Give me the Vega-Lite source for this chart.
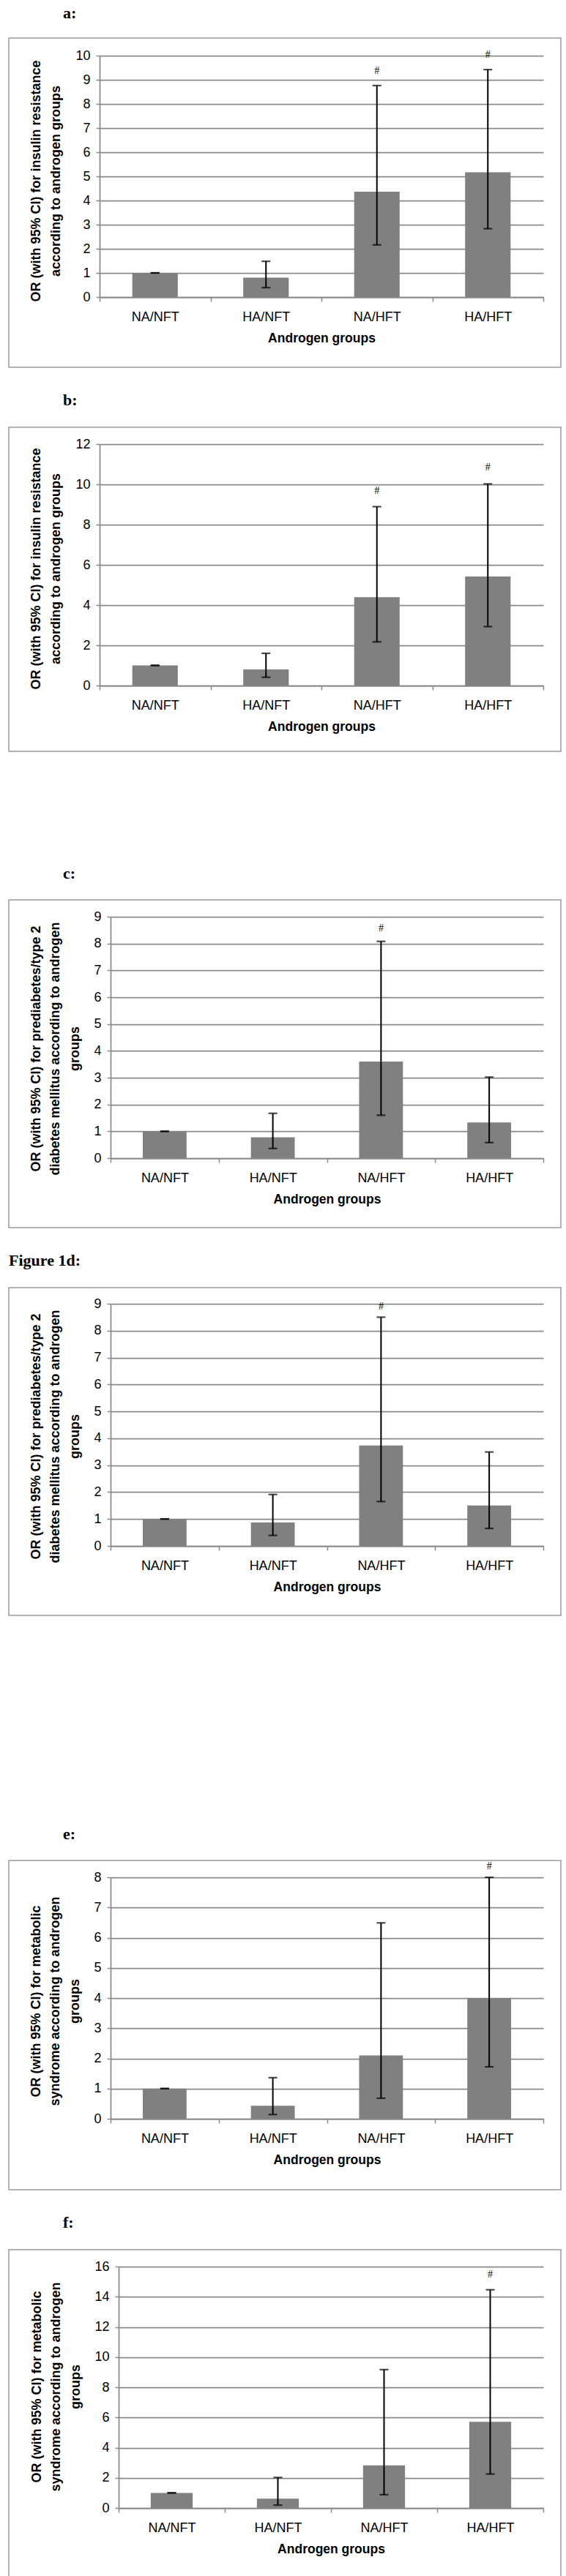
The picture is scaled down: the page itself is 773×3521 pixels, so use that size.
{
  "$schema": "https://vega.github.io/schema/vega-lite/v6.json",
  "padding": {"left": 11, "top": 6, "right": 8, "bottom": 0},
  "background": "white",
  "datasets": {
    "a": [
      {"group": "NA/NFT", "or": 1.0, "lo": 1.0, "hi": 1.0, "sig": ""},
      {"group": "HA/NFT", "or": 0.8, "lo": 0.39, "hi": 1.48, "sig": ""},
      {"group": "NA/HFT", "or": 4.36, "lo": 2.16, "hi": 8.76, "sig": "#"},
      {"group": "HA/HFT", "or": 5.17, "lo": 2.83, "hi": 9.42, "sig": "#"}
    ],
    "b": [
      {"group": "NA/NFT", "or": 1.0, "lo": 1.0, "hi": 1.0, "sig": ""},
      {"group": "HA/NFT", "or": 0.8, "lo": 0.41, "hi": 1.6, "sig": ""},
      {"group": "NA/HFT", "or": 4.39, "lo": 2.17, "hi": 8.89, "sig": "#"},
      {"group": "HA/HFT", "or": 5.42, "lo": 2.93, "hi": 10.02, "sig": "#"}
    ],
    "c": [
      {"group": "NA/NFT", "or": 1.0, "lo": 1.0, "hi": 1.0, "sig": ""},
      {"group": "HA/NFT", "or": 0.78, "lo": 0.36, "hi": 1.67, "sig": ""},
      {"group": "NA/HFT", "or": 3.6, "lo": 1.6, "hi": 8.08, "sig": "#"},
      {"group": "HA/HFT", "or": 1.33, "lo": 0.58, "hi": 3.02, "sig": ""}
    ],
    "d": [
      {"group": "NA/NFT", "or": 1.0, "lo": 1.0, "hi": 1.0, "sig": ""},
      {"group": "HA/NFT", "or": 0.87, "lo": 0.39, "hi": 1.91, "sig": ""},
      {"group": "NA/HFT", "or": 3.73, "lo": 1.65, "hi": 8.5, "sig": "#"},
      {"group": "HA/HFT", "or": 1.5, "lo": 0.65, "hi": 3.49, "sig": ""}
    ],
    "e": [
      {"group": "NA/NFT", "or": 1.0, "lo": 1.0, "hi": 1.0, "sig": ""},
      {"group": "HA/NFT", "or": 0.43, "lo": 0.14, "hi": 1.36, "sig": ""},
      {"group": "NA/HFT", "or": 2.1, "lo": 0.68, "hi": 6.49, "sig": ""},
      {"group": "HA/HFT", "or": 4.0, "lo": 1.72, "hi": 8.0, "sig": "#"}
    ],
    "f": [
      {"group": "NA/NFT", "or": 1.0, "lo": 1.0, "hi": 1.0, "sig": ""},
      {"group": "HA/NFT", "or": 0.62, "lo": 0.19, "hi": 2.02, "sig": ""},
      {"group": "NA/HFT", "or": 2.83, "lo": 0.88, "hi": 9.17, "sig": ""},
      {"group": "HA/HFT", "or": 5.71, "lo": 2.25, "hi": 14.46, "sig": "#"}
    ]
  },
  "vconcat": [
    {
      "title": {"text": "a:", "offset": 22},
      "width": 754, "height": 450,
      "data": {"name": "a"},
      "encoding": {"x": {"field": "group", "type": "nominal", "sort": ["NA/NFT", "HA/NFT", "NA/HFT", "HA/HFT"], "scale": {"range": [124, 730], "paddingInner": 0, "paddingOuter": 0}, "axis": {"title": "Androgen groups", "offset": -96}}},
      "layer": [
        {"mark": {"type": "bar", "color": "#808080", "width": {"band": 0.41}}, "encoding": {"y": {"field": "or", "type": "quantitative", "scale": {"domain": [0, 10], "range": [354, 24], "nice": false, "zero": true}, "axis": {"title": ["OR (with 95% CI) for insulin resistance", "according to androgen groups"], "values": [0, 1, 2, 3, 4, 5, 6, 7, 8, 9, 10], "format": "d", "offset": -124, "grid": true, "titleLineHeight": 27, "titleY": 195, "titleX": -86.5}}}},
        {"mark": {"type": "rule", "color": "black", "strokeWidth": 2}, "encoding": {"y": {"field": "lo", "type": "quantitative"}, "y2": {"field": "hi"}}},
        {"mark": {"type": "tick", "color": "black", "size": 12, "thickness": 2.2}, "encoding": {"y": {"field": "lo", "type": "quantitative"}}},
        {"mark": {"type": "tick", "color": "black", "size": 12, "thickness": 2.2}, "encoding": {"y": {"field": "hi", "type": "quantitative"}}},
        {"mark": {"type": "text", "dy": -20, "font": "Liberation Serif", "fontSize": 14, "color": "black"}, "encoding": {"y": {"field": "hi", "type": "quantitative"}, "text": {"field": "sig"}}}
      ]
    },
    {
      "title": {"text": "b:", "offset": 25},
      "width": 754, "height": 443,
      "data": {"name": "b"},
      "encoding": {"x": {"field": "group", "type": "nominal", "sort": ["NA/NFT", "HA/NFT", "NA/HFT", "HA/HFT"], "scale": {"range": [124, 730], "paddingInner": 0, "paddingOuter": 0}, "axis": {"title": "Androgen groups", "offset": -90}}},
      "layer": [
        {"mark": {"type": "bar", "color": "#808080", "width": {"band": 0.41}}, "encoding": {"y": {"field": "or", "type": "quantitative", "scale": {"domain": [0, 12], "range": [353, 23], "nice": false, "zero": true}, "axis": {"title": ["OR (with 95% CI) for insulin resistance", "according to androgen groups"], "values": [0, 2, 4, 6, 8, 10, 12], "format": "d", "offset": -124, "grid": true, "titleLineHeight": 27, "titleY": 193, "titleX": -86.5}}}},
        {"mark": {"type": "rule", "color": "black", "strokeWidth": 2}, "encoding": {"y": {"field": "lo", "type": "quantitative"}, "y2": {"field": "hi"}}},
        {"mark": {"type": "tick", "color": "black", "size": 12, "thickness": 2.2}, "encoding": {"y": {"field": "lo", "type": "quantitative"}}},
        {"mark": {"type": "tick", "color": "black", "size": 12, "thickness": 2.2}, "encoding": {"y": {"field": "hi", "type": "quantitative"}}},
        {"mark": {"type": "text", "dy": -22, "font": "Liberation Serif", "fontSize": 14, "color": "black"}, "encoding": {"y": {"field": "hi", "type": "quantitative"}, "text": {"field": "sig"}}}
      ]
    },
    {
      "title": {"text": [" ", "c:"], "offset": 24, "lineHeight": 122},
      "width": 754, "height": 448,
      "data": {"name": "c"},
      "encoding": {"x": {"field": "group", "type": "nominal", "sort": ["NA/NFT", "HA/NFT", "NA/HFT", "HA/HFT"], "scale": {"range": [139, 730], "paddingInner": 0, "paddingOuter": 0}, "axis": {"title": "Androgen groups", "offset": -95}}},
      "layer": [
        {"mark": {"type": "bar", "color": "#808080", "width": {"band": 0.405}}, "encoding": {"y": {"field": "or", "type": "quantitative", "scale": {"domain": [0, 9], "range": [353, 23], "nice": false, "zero": true}, "axis": {"title": ["OR (with 95% CI) for prediabetes/type 2", "diabetes mellitus according to androgen", "groups"], "values": [0, 1, 2, 3, 4, 5, 6, 7, 8, 9], "format": "d", "offset": -139, "grid": true, "titleLineHeight": 26.5, "titleY": 203, "titleX": -102}}}},
        {"mark": {"type": "rule", "color": "black", "strokeWidth": 2}, "encoding": {"y": {"field": "lo", "type": "quantitative"}, "y2": {"field": "hi"}}},
        {"mark": {"type": "tick", "color": "black", "size": 12, "thickness": 2.2}, "encoding": {"y": {"field": "lo", "type": "quantitative"}}},
        {"mark": {"type": "tick", "color": "black", "size": 12, "thickness": 2.2}, "encoding": {"y": {"field": "hi", "type": "quantitative"}}},
        {"mark": {"type": "text", "dy": -18, "font": "Liberation Serif", "fontSize": 14, "color": "black"}, "encoding": {"y": {"field": "hi", "type": "quantitative"}, "text": {"field": "sig"}}}
      ]
    },
    {
      "title": {"text": "Figure 1d:", "offset": 25, "dx": 0},
      "width": 754, "height": 448,
      "data": {"name": "d"},
      "encoding": {"x": {"field": "group", "type": "nominal", "sort": ["NA/NFT", "HA/NFT", "NA/HFT", "HA/HFT"], "scale": {"range": [139, 730], "paddingInner": 0, "paddingOuter": 0}, "axis": {"title": "Androgen groups", "offset": -95}}},
      "layer": [
        {"mark": {"type": "bar", "color": "#808080", "width": {"band": 0.405}}, "encoding": {"y": {"field": "or", "type": "quantitative", "scale": {"domain": [0, 9], "range": [353, 22], "nice": false, "zero": true}, "axis": {"title": ["OR (with 95% CI) for prediabetes/type 2", "diabetes mellitus according to androgen", "groups"], "values": [0, 1, 2, 3, 4, 5, 6, 7, 8, 9], "format": "d", "offset": -139, "grid": true, "titleLineHeight": 26.5, "titleY": 203, "titleX": -102}}}},
        {"mark": {"type": "rule", "color": "black", "strokeWidth": 2}, "encoding": {"y": {"field": "lo", "type": "quantitative"}, "y2": {"field": "hi"}}},
        {"mark": {"type": "tick", "color": "black", "size": 12, "thickness": 2.2}, "encoding": {"y": {"field": "lo", "type": "quantitative"}}},
        {"mark": {"type": "tick", "color": "black", "size": 12, "thickness": 2.2}, "encoding": {"y": {"field": "hi", "type": "quantitative"}}},
        {"mark": {"type": "text", "dy": -14, "font": "Liberation Serif", "fontSize": 14, "color": "black"}, "encoding": {"y": {"field": "hi", "type": "quantitative"}, "text": {"field": "sig"}}}
      ]
    },
    {
      "title": {"text": [" ", "e:"], "offset": 24, "lineHeight": 254},
      "width": 754, "height": 450,
      "data": {"name": "e"},
      "encoding": {"x": {"field": "group", "type": "nominal", "sort": ["NA/NFT", "HA/NFT", "NA/HFT", "HA/HFT"], "scale": {"range": [139, 730], "paddingInner": 0, "paddingOuter": 0}, "axis": {"title": "Androgen groups", "offset": -97}}},
      "layer": [
        {"mark": {"type": "bar", "color": "#808080", "width": {"band": 0.405}}, "encoding": {"y": {"field": "or", "type": "quantitative", "scale": {"domain": [0, 8], "range": [353, 23], "nice": false, "zero": true}, "axis": {"title": ["OR (with 95% CI) for metabolic", "syndrome according to androgen", "groups"], "values": [0, 1, 2, 3, 4, 5, 6, 7, 8], "format": "d", "offset": -139, "grid": true, "titleLineHeight": 26.5, "titleY": 192, "titleX": -102}}}},
        {"mark": {"type": "rule", "color": "black", "strokeWidth": 2}, "encoding": {"y": {"field": "lo", "type": "quantitative"}, "y2": {"field": "hi"}}},
        {"mark": {"type": "tick", "color": "black", "size": 12, "thickness": 2.2}, "encoding": {"y": {"field": "lo", "type": "quantitative"}}},
        {"mark": {"type": "tick", "color": "black", "size": 12, "thickness": 2.2}, "encoding": {"y": {"field": "hi", "type": "quantitative"}}},
        {"mark": {"type": "text", "dy": -15, "font": "Liberation Serif", "fontSize": 14, "color": "black"}, "encoding": {"y": {"field": "hi", "type": "quantitative"}, "text": {"field": "sig"}}}
      ]
    },
    {
      "title": {"text": "f:", "offset": 25},
      "width": 754, "height": 449,
      "data": {"name": "f"},
      "encoding": {"x": {"field": "group", "type": "nominal", "sort": ["NA/NFT", "HA/NFT", "NA/HFT", "HA/HFT"], "scale": {"range": [150, 730], "paddingInner": 0, "paddingOuter": 0}, "axis": {"title": "Androgen groups", "offset": -96}}},
      "layer": [
        {"mark": {"type": "bar", "color": "#808080", "width": {"band": 0.395}}, "encoding": {"y": {"field": "or", "type": "quantitative", "scale": {"domain": [0, 16], "range": [353, 23], "nice": false, "zero": true}, "axis": {"title": ["OR (with 95% CI) for metabolic", "syndrome according to androgen", "groups"], "values": [0, 2, 4, 6, 8, 10, 12, 14, 16], "format": "d", "offset": -150, "grid": true, "titleLineHeight": 26.5, "titleY": 187, "titleX": -112}}}},
        {"mark": {"type": "rule", "color": "black", "strokeWidth": 2}, "encoding": {"y": {"field": "lo", "type": "quantitative"}, "y2": {"field": "hi"}}},
        {"mark": {"type": "tick", "color": "black", "size": 12, "thickness": 2.2}, "encoding": {"y": {"field": "lo", "type": "quantitative"}}},
        {"mark": {"type": "tick", "color": "black", "size": 12, "thickness": 2.2}, "encoding": {"y": {"field": "hi", "type": "quantitative"}}},
        {"mark": {"type": "text", "dy": -21, "font": "Liberation Serif", "fontSize": 14, "color": "black"}, "encoding": {"y": {"field": "hi", "type": "quantitative"}, "text": {"field": "sig"}}}
      ]
    }
  ],
  "config": {
    "concat": {"spacing": 32},
    "view": {"stroke": "#9a9a9a", "strokeWidth": 1.5},
    "title": {"anchor": "start", "dx": 74, "font": "Liberation Serif", "fontSize": 22, "fontWeight": "bold", "color": "#000000", "frame": "group"},
    "axis": {
      "domainColor": "#8a8a8a", "domainWidth": 1.75,
      "tickColor": "#8a8a8a", "tickWidth": 1.5,
      "gridColor": "#8a8a8a", "gridWidth": 1.75,
      "labelFont": "Liberation Sans", "labelFontSize": 18, "labelColor": "#000000",
      "titleColor": "#000000", "titleFontWeight": "bold"
    },
    "axisX": {"labelAngle": 0, "tickBand": "extent", "tickSize": 6, "labelPadding": 12, "titlePadding": 11, "titleFont": "Liberation Sans", "titleFontSize": 17.5, "grid": false},
    "axisY": {"tickSize": 5, "labelPadding": 8, "titleFont": "Liberation Sans", "titleFontSize": 18, "titleLineHeight": 27, "titleBaseline": "middle", "titleAngle": 270, "titleAlign": "center"}
  }
}
